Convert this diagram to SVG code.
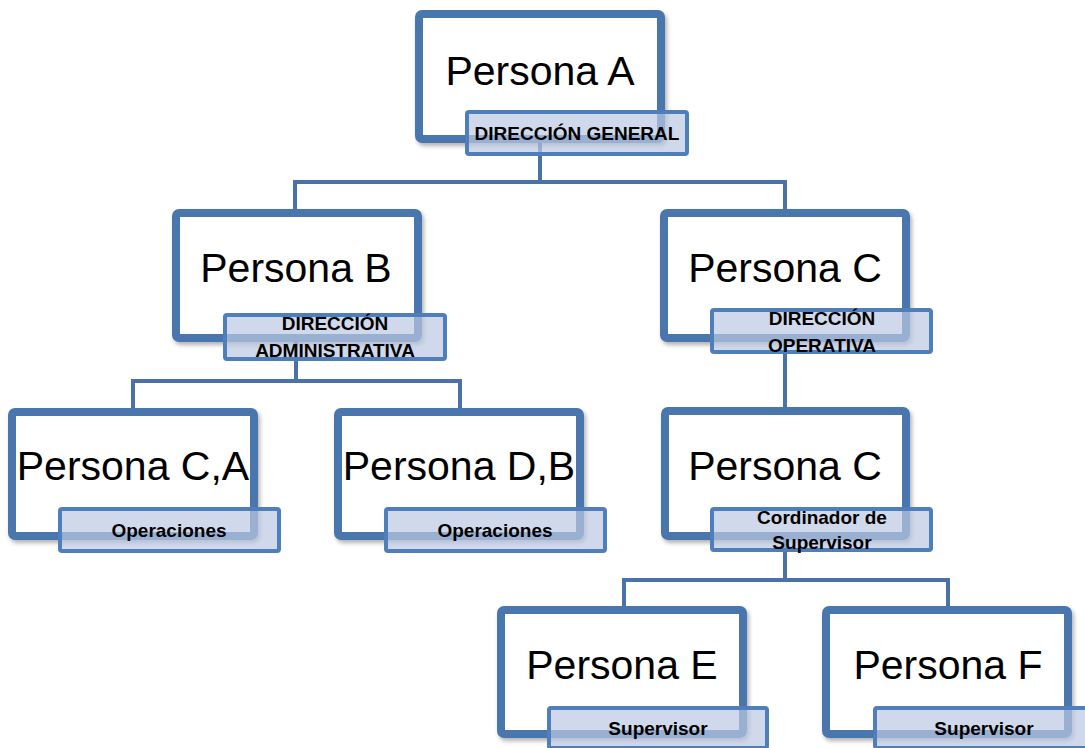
<svg xmlns="http://www.w3.org/2000/svg" width="1085" height="748" viewBox="0 0 1085 748">
<defs>
<filter id="sh" x="-10%" y="-10%" width="120%" height="125%">
<feDropShadow dx="2" dy="3" stdDeviation="2" flood-color="#000" flood-opacity="0.3"/>
</filter>
</defs>
<style>
.box{fill:#fff;stroke:#4a76ad;stroke-width:8;filter:url(#sh)}
.lbl{fill:#bcc9e2;fill-opacity:0.7;stroke:#4f7fbb;stroke-width:4}
.conn{fill:none;stroke:#4a72a8;stroke-width:4}
.main{font-family:"Liberation Sans",Arial,sans-serif;font-size:41px;fill:#000;text-anchor:middle}
.lt{font-family:"Liberation Sans",Arial,sans-serif;font-size:19px;font-weight:bold;fill:#000;text-anchor:middle}
</style>
<rect width="1085" height="748" fill="#fff"/>
<g id="connectors">
<path class="conn" d="M540 143V182M295 211V182H785V211"/>
<path class="conn" d="M296 342V381M133 408V381H460V408"/>
<path class="conn" d="M785 342V408"/>
<path class="conn" d="M785 540V580M624 607V580H948V607"/>
</g>
<g id="nodeA">
<rect class="box" x="419" y="14" width="242" height="125" rx="3"/>
<rect class="lbl" x="467" y="112" width="220" height="42" rx="2"/>
<text class="main" x="540" y="85">Persona A</text>
<text class="lt" x="577" y="140">DIRECCIÓN GENERAL</text>
</g>
<g id="nodeB">
<rect class="box" x="176" y="213" width="242" height="125" rx="3"/>
<rect class="lbl" x="225" y="315" width="220" height="44" rx="2"/>
<text class="main" x="296" y="282">Persona B</text>
<text class="lt" x="335" y="330">DIRECCIÓN</text>
<text class="lt" x="335" y="357">ADMINISTRATIVA</text>
</g>
<g id="nodeC">
<rect class="box" x="664" y="213" width="242" height="125" rx="3"/>
<rect class="lbl" x="712" y="310" width="219" height="42" rx="2"/>
<text class="main" x="785" y="282">Persona C</text>
<text class="lt" x="822" y="325">DIRECCIÓN</text>
<text class="lt" x="822" y="352">OPERATIVA</text>
</g>
<g id="nodeCA">
<rect class="box" x="12" y="412" width="242" height="124" rx="3"/>
<rect class="lbl" x="60" y="509" width="219" height="42" rx="2"/>
<text class="main" x="133" y="480">Persona C,A</text>
<text class="lt" x="169" y="537">Operaciones</text>
</g>
<g id="nodeDB">
<rect class="box" x="338" y="412" width="242" height="124" rx="3"/>
<rect class="lbl" x="386" y="509" width="219" height="42" rx="2"/>
<text class="main" x="459" y="480">Persona D,B</text>
<text class="lt" x="495" y="537">Operaciones</text>
</g>
<g id="nodeC2">
<rect class="box" x="665" y="411" width="241" height="125" rx="3"/>
<rect class="lbl" x="712" y="509" width="219" height="41" rx="2"/>
<text class="main" x="785" y="480">Persona C</text>
<text class="lt" x="822" y="524">Cordinador de</text>
<text class="lt" x="822" y="549">Supervisor</text>
</g>
<g id="nodeE">
<rect class="box" x="501" y="610" width="242" height="124" rx="3"/>
<rect class="lbl" x="549" y="708" width="218" height="40" rx="2"/>
<text class="main" x="622" y="679">Persona E</text>
<text class="lt" x="658" y="735">Supervisor</text>
</g>
<g id="nodeF">
<rect class="box" x="826" y="610" width="242" height="124" rx="3"/>
<rect class="lbl" x="875" y="708" width="218" height="40" rx="2"/>
<text class="main" x="948" y="679">Persona F</text>
<text class="lt" x="984" y="735">Supervisor</text>
</g>
</svg>
